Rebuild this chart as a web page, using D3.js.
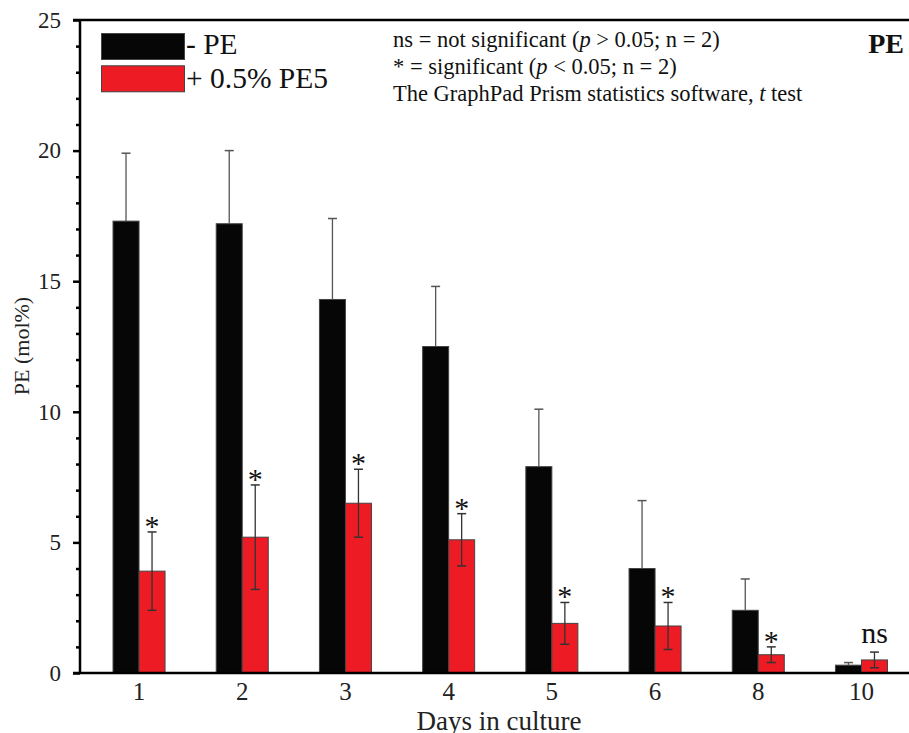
<!DOCTYPE html>
<html><head><meta charset="utf-8">
<script src="https://cdn.jsdelivr.net/npm/d3@7"></script>
<style>body{margin:0;background:#fff;}svg{display:block;}svg text{font-family:"Liberation Serif","Times New Roman",serif;}</style>
</head><body>
<svg id="c" width="909" height="733"></svg>
<script>
const days = ["1","2","3","4","5","6","8","10"];
const seriesNames = ["- PE","+ 0.5% PE5"];
const controlMean = [17.3,17.2,14.3,12.5,7.9,4.0,2.4,0.3];
const controlErr  = [2.6,2.8,3.1,2.3,2.2,2.6,1.2,0.1];
const treatedMean = [3.9,5.2,6.5,5.1,1.9,1.8,0.7,0.5];
const treatedErr  = [1.5,2.0,1.3,1.0,0.8,0.9,0.3,0.3];
const significance = ["*","*","*","*","*","*","*","ns"];
const yTicks = [0,5,10,15,20,25];
const notes = ["ns = not significant (|p| > 0.05; n = 2)","* = significant (|p| < 0.05; n = 2)","The GraphPad Prism statistics software, |t| test"];

(function(){
const FF = "Liberation Serif";
const svg = d3.select("#c");
const left=80, topY=20, bottom=673, rightEdge=909;
const y = d3.scaleLinear().domain([0,25]).range([bottom, topY]);
const x0 = d3.scaleBand().domain(days).range([80, 920.5]).paddingInner(0.496).paddingOuter(0.32);
const x1 = d3.scaleBand().domain(seriesNames).range([0, x0.bandwidth()]);
const colors = ["#060606","#ed1c24"];

svg.append("line").attr("x1",73).attr("x2",rightEdge).attr("y1",topY).attr("y2",topY).attr("stroke","#000").attr("stroke-width",2.5);

const data = days.map((d,i)=>({d,i,vals:[{s:seriesNames[0],m:controlMean[i],e:controlErr[i]},{s:seriesNames[1],m:treatedMean[i],e:treatedErr[i]}]}));
const g = svg.append("g");
data.forEach(row=>{
  row.vals.forEach((v,k)=>{
    const bx = x0(row.d)+x1(v.s), bw = x1.bandwidth(), cx = bx+bw/2;
    g.append("rect").attr("x",bx).attr("y",y(v.m)).attr("width",bw).attr("height",y(0)-y(v.m))
      .attr("fill",colors[k]).attr("stroke","#444").attr("stroke-width",1);
    const ec = k===0?"#555":"#333";
    const lo = k===0? v.m : v.m-v.e;
    g.append("line").attr("x1",cx).attr("x2",cx).attr("y1",y(lo)).attr("y2",y(v.m+v.e)).attr("stroke",ec).attr("stroke-width",1.3);
    g.append("line").attr("x1",cx-4.5).attr("x2",cx+4.5).attr("y1",y(v.m+v.e)).attr("y2",y(v.m+v.e)).attr("stroke",ec).attr("stroke-width",1.5);
    if(k===1){
      g.append("line").attr("x1",cx-4.5).attr("x2",cx+4.5).attr("y1",y(v.m-v.e)).attr("y2",y(v.m-v.e)).attr("stroke",ec).attr("stroke-width",1.5);
      const s = significance[row.i];
      g.append("text").attr("x",cx).attr("y", s==="ns"? y(v.m+v.e)-9 : y(v.m+v.e)+4)
        .attr("text-anchor","middle").attr("font-family",FF).attr("font-size",30).attr("fill","#111").text(s);
    }
  });
});

const yAxis = d3.axisLeft(y).tickValues(yTicks).tickSize(7).tickPadding(12).tickFormat(d3.format("d"));
const ya = svg.append("g").attr("transform",`translate(${left},0)`).call(yAxis);
ya.attr("font-family",FF).attr("font-size",23);
ya.select(".domain").attr("stroke","#000").attr("stroke-width",2.5).attr("d",`M0,${topY}V${bottom}`);
ya.selectAll(".tick line").attr("stroke","#000").attr("stroke-width",2.5);
ya.selectAll(".tick text").attr("fill","#222");
const minor = d3.range(0,26).filter(v=>v%5!==0);
const yMinor = d3.axisLeft(y).tickValues(minor).tickSize(4).tickFormat("");
const ym = svg.append("g").attr("transform",`translate(${left},0)`).call(yMinor);
ym.select(".domain").remove();
ym.selectAll(".tick line").attr("stroke","#000").attr("stroke-width",2.5);

const xAxis = d3.axisBottom(x0).tickSize(0).tickPadding(9);
const xa = svg.append("g").attr("transform",`translate(0,${bottom})`).call(xAxis);
xa.attr("font-family",FF).attr("font-size",25);
xa.select(".domain").attr("stroke","#000").attr("stroke-width",2.5).attr("d",`M73,0H${rightEdge}`);
xa.selectAll(".tick text").attr("fill","#222");

svg.append("text").attr("x",499).attr("y",730).attr("text-anchor","middle").attr("font-family",FF).attr("font-size",27).attr("fill","#222").text("Days in culture");
svg.append("text").attr("transform","translate(28.5,346) rotate(-90)").attr("text-anchor","middle").attr("font-family",FF).attr("font-size",22).attr("fill","#222").text("PE (mol%)");

const leg = svg.append("g");
seriesNames.forEach((s,i)=>{
  leg.append("rect").attr("x",101.5).attr("y",33.5+i*32.3).attr("width",83).attr("height",26).attr("fill",colors[i]).attr("stroke","#444").attr("stroke-width",1);
  leg.append("text").attr("x",186).attr("y",54+i*34).attr("font-family",FF).attr("font-size",29.5).attr("fill","#111").text(s);
});

notes.forEach((n,i)=>{
  const t = svg.append("text").attr("x",393).attr("y",47+i*27).attr("font-family",FF).attr("font-size",22.5).attr("fill","#111");
  n.split("|").forEach((part,j)=>{
    t.append("tspan").attr("font-style", j%2===1?"italic":"normal").text(part);
  });
});
svg.append("text").attr("x",904).attr("y",53).attr("text-anchor","end").attr("font-family",FF).attr("font-size",28).attr("font-weight","bold").attr("fill","#111").text("PE");
})();
</script>
</body></html>
